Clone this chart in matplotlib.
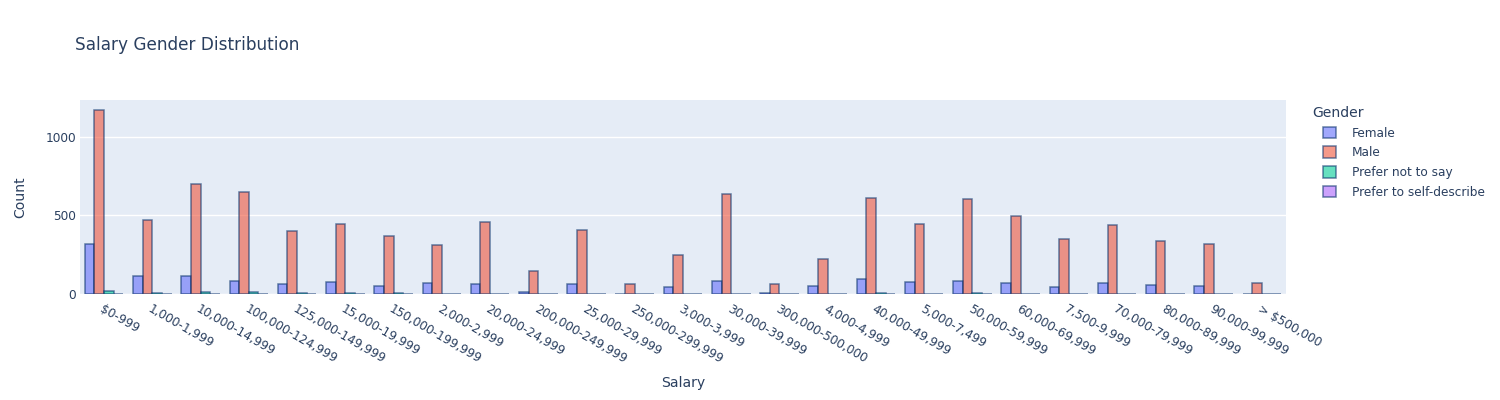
import matplotlib
matplotlib.use("Agg")
import matplotlib.pyplot as plt
import numpy as np

categories = ["$0-999", "1,000-1,999", "10,000-14,999", "100,000-124,999",
              "125,000-149,999", "15,000-19,999", "150,000-199,999", "2,000-2,999",
              "20,000-24,999", "200,000-249,999", "25,000-29,999", "250,000-299,999",
              "3,000-3,999", "30,000-39,999", "300,000-500,000", "4,000-4,999",
              "40,000-49,999", "5,000-7,499", "50,000-59,999", "60,000-69,999",
              "7,500-9,999", "70,000-79,999", "80,000-89,999", "90,000-99,999",
              "> $500,000"]

female = [316, 117, 117, 85, 64, 74, 53, 68, 61, 11, 61, 2, 47, 85, 6, 51,
          95, 78, 83, 68, 47, 70, 55, 49, 1]
male = [1174, 468, 702, 651, 403, 443, 367, 314, 456, 144, 409, 62, 248, 634,
        61, 225, 608, 443, 606, 494, 352, 439, 337, 320, 72]
prefer_not = [17, 6, 13, 11, 5, 4, 4, 2, 3, 3, 3, 0, 3, 2, 1, 2, 6, 3, 5, 3,
              2, 3, 3, 1, 2]
self_describe = [3, 1, 2, 2, 1, 1, 2, 1, 0, 0, 1, 0, 0, 2, 0, 0, 2, 1, 1, 1,
                 0, 3, 1, 0, 2]

series = [("Female", female, "#636EFA"),
          ("Male", male, "#EF553B"),
          ("Prefer not to say", prefer_not, "#00CC96"),
          ("Prefer to self-describe", self_describe, "#AB63FA")]

text_color = "#2a3f5f"
plt.rcParams['font.family'] = ['DejaVu Sans']

fig = plt.figure(figsize=(15, 4), dpi=100)
ax = fig.add_axes([80/1500, 1 - 294/400, (1286-80)/1500, (294-100)/400])
ax.set_facecolor("#E5ECF6")

x = np.arange(len(categories))
bw = 0.8 / len(series)
for i, (name, vals, col) in enumerate(series):
    offs = -0.4 + bw * (i + 0.5)
    ax.bar(x + offs, vals, width=bw, color=col, alpha=0.6,
           edgecolor="#08306b", linewidth=1.1, label=name, zorder=3)

ax.set_xlim(-0.5, len(categories) - 0.5)
ax.set_ylim(0, 1235)
ax.set_yticks([0, 500, 1000])
ax.grid(axis='y', color='white', linewidth=1, zorder=0)
ax.set_axisbelow(True)
for s in ax.spines.values():
    s.set_visible(False)
ax.tick_params(axis='both', length=0, colors=text_color, labelsize=8.7)
ax.tick_params(axis='y', pad=3)
ax.set_xticks(x)
ax.set_xticklabels(categories, rotation=-30, ha='left', va='top',
                   rotation_mode='anchor')
ax.tick_params(axis='x', pad=6)

fig.text(683/1500, 1 - 383/400, "Salary", ha='center', va='center',
         fontsize=10.1, color=text_color)
fig.text(20/1500, 1 - 197/400, "Count", ha='center', va='center',
         rotation=90, fontsize=10.1, color=text_color)
fig.text(75/1500, 1 - 45/400, "Salary Gender Distribution", ha='left',
         va='center', fontsize=12.2, color=text_color)

leg = ax.legend(loc='upper left', bbox_to_anchor=(1323/1500, 1 - 106/400),
                bbox_transform=fig.transFigure, frameon=False, title="Gender",
                fontsize=8.7, title_fontsize=10.1, alignment='left',
                handlelength=1.1, handleheight=1.1, handletextpad=1.3,
                labelspacing=0.55, borderaxespad=0, borderpad=0)
for t in leg.get_texts():
    t.set_color(text_color)
leg.get_title().set_color(text_color)
leg.get_title().set_position((-11, 0))

fig.savefig("out.png", dpi=100, facecolor="white")
